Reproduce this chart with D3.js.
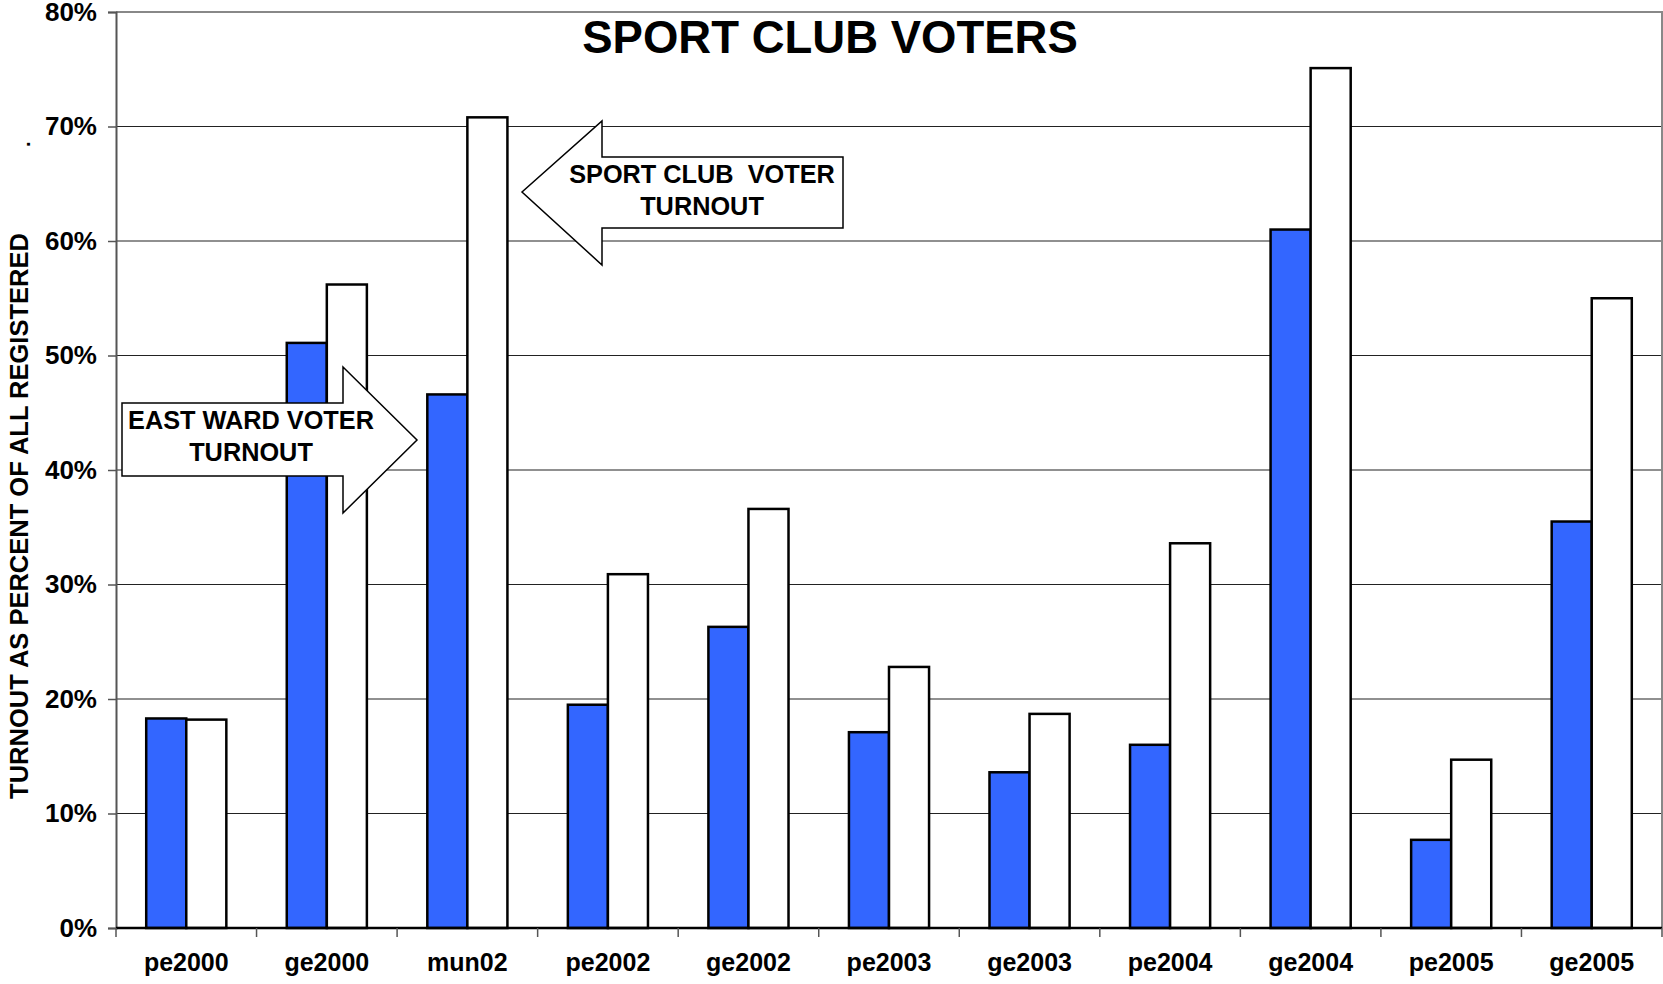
<!DOCTYPE html>
<html>
<head>
<meta charset="utf-8">
<script src="https://cdn.jsdelivr.net/npm/d3@7"></script>
<style>
  body { margin: 0; background: #fff; }
  text { font-family: "Liberation Sans", Arial, sans-serif; font-weight: bold; }
</style>
</head>
<body>
<svg id="chart" width="1663" height="984"></svg>
<script>
// elections on the x axis
const elections = ["pe2000", "ge2000", "mun02", "pe2002", "ge2002", "pe2003",
  "ge2003", "pe2004", "ge2004", "pe2005", "ge2005"];
// turnout, percent of registered
const eastWard = [18.3, 51.1, 46.6, 19.5, 26.3, 17.1, 13.6, 16.0, 61.0, 7.7, 35.5];
const sportClub = [18.2, 56.2, 70.8, 30.9, 36.6, 22.8, 18.7, 33.6, 75.1, 14.7, 55.0];
const yTicks = [0, 10, 20, 30, 40, 50, 60, 70, 80];
const series = ["east", "club"];

const svg = d3.select("#chart");
const margin = { top: 12, right: 1, bottom: 56, left: 116 };
const width = 1663 - margin.left - margin.right;
const height = 984 - margin.top - margin.bottom;

const g = svg.append("g").attr("transform", `translate(${margin.left},${margin.top})`);

const x = d3.scaleBand().domain(elections).range([0, width]).paddingInner(0.43).paddingOuter(0.215);
const xs = d3.scaleBand().domain(series).range([0, x.bandwidth()]);
const y = d3.scaleLinear().domain([0, 80]).range([height, 0]);
const colors = d3.scaleOrdinal(series, ["#3366ff", "#ffffff"]);

// grid lines
g.append("g")
  .selectAll("line")
  .data(yTicks.filter(d => d > 0 && d < 80))
  .join("line")
  .attr("x1", 0)
  .attr("x2", width)
  .attr("y1", d => y(d))
  .attr("y2", d => y(d))
  .attr("stroke", "#222")
  .attr("stroke-width", 1.2);

// frame top + right
g.append("path")
  .attr("d", `M0,${y(80)}H${width}V${height}`)
  .attr("fill", "none")
  .attr("stroke", "#888")
  .attr("stroke-width", 2);

// bars
const rows = elections.map((e, i) => ({ e, values: [eastWard[i], sportClub[i]] }));
g.append("g")
  .selectAll("g")
  .data(rows)
  .join("g")
  .attr("transform", d => `translate(${x(d.e)},0)`)
  .selectAll("rect")
  .data(d => d.values.map((v, j) => ({ key: series[j], v })))
  .join("rect")
  .attr("x", d => xs(d.key))
  .attr("width", xs.bandwidth())
  .attr("y", d => y(d.v))
  .attr("height", d => y(0) - y(d.v))
  .attr("fill", d => colors(d.key))
  .attr("stroke", "#000")
  .attr("stroke-width", 2.5);

// y axis
const yAxis = g.append("g")
  .call(d3.axisLeft(y).tickValues(yTicks).tickFormat(d => d + "%").tickSize(8).tickPadding(11));
yAxis.select(".domain").attr("stroke", "#555").attr("stroke-width", 2);
yAxis.selectAll(".tick line").attr("stroke", "#555").attr("stroke-width", 1.5);
yAxis.selectAll(".tick text")
  .attr("font-size", 26)
  .attr("fill", "#000")
  .attr("font-family", "Liberation Sans, Arial, sans-serif")
  .attr("font-weight", "bold");

// x axis
const xAxis = g.append("g").attr("transform", `translate(0,${height})`)
  .call(d3.axisBottom(x).tickSize(0).tickPadding(25));
xAxis.select(".domain").remove();
xAxis.selectAll(".tick text")
  .attr("font-size", 25)
  .attr("fill", "#000")
  .attr("font-family", "Liberation Sans, Arial, sans-serif")
  .attr("font-weight", "bold");
g.append("line")
  .attr("x1", 0).attr("x2", width)
  .attr("y1", height).attr("y2", height)
  .attr("stroke", "#000").attr("stroke-width", 2.5);
g.append("g")
  .selectAll("line")
  .data(d3.range(elections.length + 1))
  .join("line")
  .attr("x1", i => i * x.step())
  .attr("x2", i => i * x.step())
  .attr("y1", height)
  .attr("y2", height + 9)
  .attr("stroke", "#555")
  .attr("stroke-width", 1.5);

// title
svg.append("text")
  .attr("x", 830)
  .attr("y", 53)
  .attr("text-anchor", "middle")
  .attr("font-size", 45.5)
  .text("SPORT CLUB VOTERS");

// y label
svg.append("text")
  .attr("transform", "translate(28,516) rotate(-90)")
  .attr("text-anchor", "middle")
  .attr("font-size", 25.5)
  .text("TURNOUT AS PERCENT OF ALL REGISTERED");
svg.append("text")
  .attr("transform", "translate(30,147) rotate(-90)")
  .attr("font-size", 20)
  .text(".");

// annotation arrows
const arrows = [
  { pts: [[122, 403], [343, 403], [343, 367], [417, 440], [343, 513], [343, 476], [122, 476]],
    lines: ["EAST WARD VOTER", "TURNOUT"], tx: 251, ty: 429 },
  { pts: [[843, 157], [602, 157], [602, 121], [522, 192], [602, 265], [602, 228], [843, 228]],
    lines: ["SPORT CLUB  VOTER", "TURNOUT"], tx: 702, ty: 183 }
];
arrows.forEach(a => {
  svg.append("polygon")
    .attr("points", a.pts.map(p => p.join(",")).join(" "))
    .attr("fill", "#fff")
    .attr("stroke", "#000")
    .attr("stroke-width", 1.5);
  svg.append("text")
    .attr("text-anchor", "middle")
    .attr("font-size", 25.3)
    .selectAll("tspan")
    .data(a.lines)
    .join("tspan")
    .attr("x", a.tx)
    .attr("y", (d, i) => a.ty + i * 32)
    .style("white-space", "pre")
    .text(d => d);
});
</script>
</body>
</html>
